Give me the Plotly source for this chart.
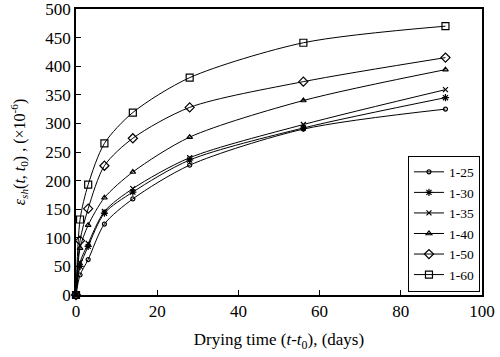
import plotly.graph_objects as go

days = [0, 1, 3, 7, 14, 28, 56, 91]
names = ["1-25", "1-30", "1-35", "1-40", "1-50", "1-60"]
s_125 = [0, 35, 62, 124, 168, 227, 290, 325]
s_130 = [0, 50, 85, 143, 180, 236, 292, 345]
s_135 = [0, 57, 90, 146, 186, 240, 298, 359]
s_140 = [0, 82, 122, 170, 215, 276, 340, 394]
s_150 = [0, 95, 151, 226, 274, 328, 373, 415]
s_160 = [0, 132, 193, 265, 319, 380, 441, 470]
x_ticks = [0, 20, 40, 60, 80, 100]
y_ticks = [0, 50, 100, 150, 200, 250, 300, 350, 400, 450, 500]

series = [s_125, s_130, s_135, s_140, s_150, s_160]
symbols = ["circle-open", "asterisk-open", "x-thin-open", "triangle-up-open", "diamond-open", "square-open"]
sizes = [4, 6, 5, 5, 7, 7]

FONT = "Liberation Serif"
fig = go.Figure()
for nm, ys, sym, sz in zip(names, series, symbols, sizes):
    fig.add_trace(go.Scatter(
        x=days, y=ys, name=nm, mode="lines+markers",
        line=dict(color="black", width=1, shape="spline", smoothing=0.8),
        marker=dict(symbol=sym, size=sz, color="black", line=dict(color="black", width=1.2)),
        cliponaxis=False,
    ))

fig.update_layout(
    width=500, height=357,
    margin=dict(l=76, r=18, t=9, b=62),
    paper_bgcolor="white", plot_bgcolor="white",
    font=dict(family=FONT, size=17, color="black"),
    showlegend=True,
    legend=dict(x=0.995, y=0.012, xanchor="right", yanchor="bottom",
                bordercolor="black", borderwidth=1, bgcolor="white",
                font=dict(family=FONT, size=13.5), tracegroupgap=0,
                itemwidth=30),
)
fig.update_xaxes(
    range=[0, 100], tickvals=x_ticks, ticktext=[str(v) for v in x_ticks],
    showgrid=False, zeroline=False, showline=True, linecolor="black", linewidth=1.5,
    mirror=True, ticks="inside", ticklen=5, tickcolor="black", automargin=False,
    ticklabeloverflow="allow",
    title=dict(text="Drying time (<i>t</i>-<i>t</i><sub>0</sub>), (days)", standoff=13,
               font=dict(family=FONT, size=17)),
)
fig.update_yaxes(
    range=[0, 500], tickvals=y_ticks, ticktext=[str(v) for v in y_ticks],
    showgrid=False, zeroline=False, showline=True, linecolor="black", linewidth=1.5,
    mirror=True, ticks="inside", ticklen=5, tickcolor="black", automargin=False,
    ticklabeloverflow="allow",
    title=dict(text="<i>ε<sub>sh</sub></i>(<i>t</i>, <i>t</i><sub>0</sub>) , (×10<sup>-6</sup>)",
               standoff=16, font=dict(family=FONT, size=16)),
)
fig.write_html("out.html", config={"displayModeBar": False},
               post_script="document.body.style.margin='0px';")
